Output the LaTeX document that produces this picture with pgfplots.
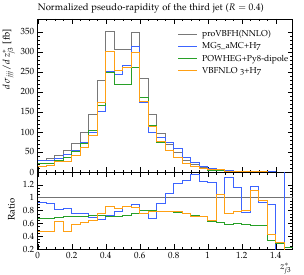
\documentclass[border=0pt]{standalone}
\usepackage[T1]{fontenc}
\usepackage[osf]{mathpazo}
\usepackage{pgfplots}
\usepackage{pgfplotstable}
\pgfplotsset{compat=1.18}
\definecolor{cgray}{RGB}{120,120,120}
\definecolor{cblue}{RGB}{60,100,255}
\definecolor{cgreen}{RGB}{40,160,40}
\definecolor{corange}{RGB}{255,160,20}

\pgfplotstableread{
x g b p v
0.00 30 27.9 20.4 14.4
0.05 33 30.0 22.4 15.5
0.10 41 33.6 28.3 25.8
0.15 53 44.0 37.1 25.4
0.20 72 54.7 51.1 41.8
0.25 100 75.0 71.0 61.0
0.30 144 99.4 103.7 92.2
0.35 229 151.1 167.2 174.0
0.40 350 252.0 248.5 300.0
0.45 307 242.5 218.0 254.8
0.50 305 265.4 219.6 262.3
0.55 348 313.2 261.0 297.5
0.60 233 174.8 186.4 177.0
0.65 144 97.9 115.2 113.8
0.70 96 87.4 74.9 75.4
0.75 68 72.8 53.0 53.4
0.80 48 58.6 37.0 37.4
0.85 28 35.6 21.0 21.3
0.90 18 24.7 13.1 12.8
0.95 12 15.0 8.5 8.5
1.00 8 9.9 5.0 5.2
1.05 5 5.25 3.1 5.25
1.10 3 3.93 1.77 2.25
1.15 2 2.32 1.2 1.56
1.20 1.3 1.0 0.77 1.04
1.25 0.8 0.94 0.46 0.9
1.30 0.5 0.46 0.285 0.475
1.35 0.3 0.27 0.1 0.126
1.40 0.15 0.0075 0.042 0.045
1.45 0.08 0.144 0.018 0.0016
1.50 0.08 0.144 0.018 0.0016
}\maindata

\pgfplotstableread{
x rb rp rv
0.00 0.93 0.68 0.48
0.05 0.91 0.68 0.47
0.10 0.82 0.69 0.63
0.15 0.83 0.70 0.48
0.20 0.76 0.71 0.58
0.25 0.75 0.71 0.61
0.30 0.69 0.72 0.64
0.35 0.66 0.73 0.76
0.40 0.72 0.71 0.857
0.45 0.79 0.71 0.83
0.50 0.87 0.72 0.86
0.55 0.90 0.75 0.855
0.60 0.75 0.80 0.76
0.65 0.68 0.80 0.79
0.70 0.91 0.78 0.785
0.75 1.07 0.78 0.785
0.80 1.22 0.77 0.78
0.85 1.27 0.75 0.76
0.90 1.37 0.73 0.71
0.95 1.25 0.71 0.71
1.00 1.24 0.63 0.65
1.05 1.05 0.62 1.05
1.10 1.31 0.59 0.75
1.15 1.16 0.60 0.78
1.20 0.77 0.59 0.80
1.25 1.17 0.57 1.12
1.30 0.92 0.57 0.95
1.35 0.90 0.33 0.42
1.40 0.05 0.28 0.30
1.45 1.80 0.22 0.02
1.50 1.80 0.22 0.02
}\ratiodata

\pgfplotsset{
  rivet/.style={
    scale only axis, width=255pt, anchor=south west,
    xmin=0, xmax=1.5,
    xtick={0,0.2,0.4,0.6,0.8,1,1.2,1.4},
    minor x tick num=3,
    tick align=inside,
    major tick length=5pt, minor tick length=2.5pt,
    every tick/.style={black, line width=0.4pt},
    axis line style={line width=0.5pt},
    every tick label/.append style={font=\fontsize{9}{10}\selectfont},
    label style={font=\fontsize{9.5}{11}\selectfont},
  },
  hist/.style={const plot mark left, mark=none, line width=0.85pt},
}

\begin{document}
\begin{tikzpicture}
\begin{axis}[rivet,
  at={(37.7pt,102pt)}, height=153pt,
  ymin=0, ymax=382,
  ytick={0,50,100,150,200,250,300,350},
  minor y tick num=4,
  xticklabels={},
  ylabel={$d\,\sigma_{jjj}/d\,z^*_{j3}$ [fb]},
  ylabel style={at={(axis description cs:-0.076,0.955)}, anchor=south east},
  title={Normalized pseudo-rapidity of the third jet ($R = 0.4$)},
  title style={at={(axis description cs:0,1)}, anchor=south west, inner sep=0pt, font=\fontsize{9.5}{11}\selectfont},
  legend cell align=left,
  legend image code/.code={\draw[#1, line width=0.9pt] (0pt,0pt) -- (19pt,0pt);},
  legend style={at={(axis description cs:0.537,0.948)}, anchor=north west, draw=none, fill=none,
    font=\fontsize{8.6}{10}\selectfont, row sep=2.2pt,
    nodes={inner sep=0.5pt, text height=7pt, text depth=2pt},
    /tikz/every odd column/.append style={column sep=4pt}},
]
\addplot[hist, cgray] table[x=x, y=g]{\maindata};
\addlegendentry{proVBFH(NNLO)}
\addplot[hist, cblue] table[x=x, y=b]{\maindata};
\addlegendentry{MG5\_aMC+H7}
\addplot[hist, cgreen] table[x=x, y=p]{\maindata};
\addlegendentry{POWHEG+Py8-dipole}
\addplot[hist, corange] table[x=x, y=v]{\maindata};
\addlegendentry{VBFNLO 3+H7}
\end{axis}

\begin{axis}[rivet,
  at={(37.7pt,25pt)}, height=77pt,
  ymin=0.2, ymax=1.4,
  ytick={0.2,0.4,0.6,0.8,1,1.2},
  minor y tick num=3,
  ylabel={Ratio},
  ylabel style={at={(axis description cs:-0.076,0.70)}, anchor=south east},
  xlabel={$z^*_{j3}$},
  xlabel style={at={(axis description cs:1,0)}, anchor=north east, yshift=-10pt, xshift=2pt},
]
\addplot[draw=black!55, line width=0.7pt, mark=none] coordinates {(0,1) (1.5,1)};
\addplot[hist, cblue] table[x=x, y=rb]{\ratiodata};
\addplot[hist, cgreen] table[x=x, y=rp]{\ratiodata};
\addplot[hist, corange] table[x=x, y=rv]{\ratiodata};
\end{axis}
\pgfresetboundingbox
\path[use as bounding box] (0pt,0pt) rectangle (304pt,274pt);
\end{tikzpicture}
\end{document}
